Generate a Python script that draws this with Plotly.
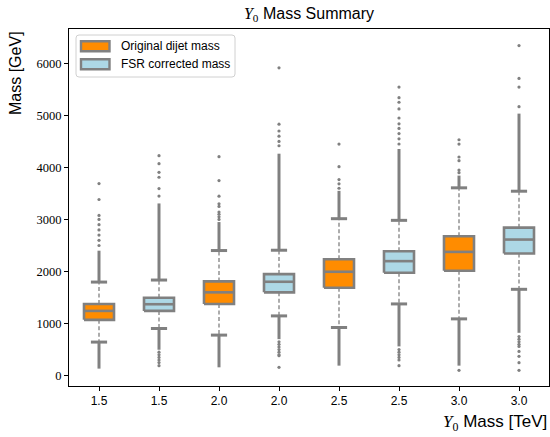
import plotly.graph_objects as go

# ---------------- data ----------------
categories = ["1.5", "1.5", "2.0", "2.0", "2.5", "2.5", "3.0", "3.0"]
series_of_box = ["orig", "fsr", "orig", "fsr", "orig", "fsr", "orig", "fsr"]
series_names = {"orig": "Original dijet mass", "fsr": "FSR corrected mass"}
series_order = ["orig", "fsr"]

q1 = [1071, 1243, 1377, 1600, 1689, 1975, 2014, 2346]
median = [1243, 1371, 1600, 1803, 1995, 2199, 2377, 2614]
q3 = [1377, 1497, 1810, 1950, 2237, 2390, 2677, 2843]
lower_cap = [644, 905, 778, 1147, 924, 1377, 1090, 1658]
upper_cap = [1797, 1836, 2403, 2409, 3015, 2983, 3608, 3543]

# dense (visually continuous) runs of outliers
upper_dense_top = [2400, 3308, 2950, 4264, 3550, 4354, 3843, 5034]
lower_dense_bottom = [134, 497, 159, 700, 191, 561, 191, 822]

# isolated outliers
upper_points = [
    [2500, 2600, 2700, 2800, 2900, 3000, 3078, 3384, 3690],
    [3450, 3594, 3811, 3906, 4073, 4226],
    [3000, 3050, 3100, 3142, 3250, 3300, 3447, 3748, 4206],
    [4417, 4500, 4600, 4700, 4832, 5914],
    [3600, 3684, 3767, 4015, 4449],
    [4450, 4550, 4650, 4750, 4837, 4950, 5124, 5252, 5341, 5545],
    [3900, 3950, 4130, 4200, 4449, 4532],
    [5168, 5545, 5711, 6342],
]
lower_points = [
    [],
    [450, 400, 350, 300, 250, 191],
    [],
    [650, 600, 550, 500, 450, 400, 382, 159],
    [],
    [500, 450, 400, 350, 300, 191],
    [102],
    [750, 700, 650, 600, 561, 465, 370, 249, 102],
]

# ---------------- styling ----------------
ORANGE = "#FF8C00"
LIGHTBLUE = "#ADD8E6"
GREY = "#808080"
fill_of = {"orig": ORANGE, "fsr": LIGHTBLUE}
BOX_W = 0.5
CAP_W = 0.27
SANS = "Liberation Sans, Arial, sans-serif"
SERIF = "Liberation Serif"

W, H = 550, 437
ML, MR, MT, MB = 69, 1, 29, 51
PW, PH = W - ML - MR, H - MT - MB


def px2x(px):
    return (px - ML) / PW


def px2y(py):
    return (H - MB - py) / PH


positions = list(range(1, len(categories) + 1))

fig = go.Figure()

# whiskers (dashed)
wx, wy = [], []
for p, a, b, c, d in zip(positions, q1, q3, lower_cap, upper_cap):
    wx += [p, p, None, p, p, None]
    wy += [b, d, None, a, c, None]
fig.add_trace(go.Scatter(x=wx, y=wy, mode="lines", showlegend=False, hoverinfo="skip",
                         line=dict(color=GREY, width=1.3, dash="4px,2.5px")))

# dense outlier runs
ox, oy = [], []
for p, uc, ut, lc, lb in zip(positions, upper_cap, upper_dense_top, lower_cap, lower_dense_bottom):
    ox += [p, p, None, p, p, None]
    oy += [uc, ut, None, lb, lc, None]
fig.add_trace(go.Scatter(x=ox, y=oy, mode="lines", showlegend=False, hoverinfo="skip",
                         line=dict(color=GREY, width=3)))

# isolated outliers
px_, py_ = [], []
for p, ups, lows in zip(positions, upper_points, lower_points):
    for v in ups + lows:
        px_.append(p)
        py_.append(v)
fig.add_trace(go.Scatter(x=px_, y=py_, mode="markers", showlegend=False, hoverinfo="skip",
                         marker=dict(color=GREY, size=3.2, line=dict(width=0))))

# boxes, one trace per series
for key in series_order:
    bx, by = [], []
    for p, s, a, b in zip(positions, series_of_box, q1, q3):
        if s != key:
            continue
        l, r = p - BOX_W / 2, p + BOX_W / 2
        bx += [l, r, r, l, l, None]
        by += [a, a, b, b, a, None]
    fig.add_trace(go.Scatter(x=bx, y=by, mode="lines", fill="toself",
                             fillcolor=fill_of[key], name=series_names[key], showlegend=False,
                             line=dict(color=GREY, width=2.6), hoverinfo="skip"))

# medians
mx, my = [], []
for p, m in zip(positions, median):
    mx += [p - BOX_W / 2, p + BOX_W / 2, None]
    my += [m, m, None]
fig.add_trace(go.Scatter(x=mx, y=my, mode="lines", showlegend=False, hoverinfo="skip",
                         line=dict(color=GREY, width=2.6)))

# caps
cx, cy = [], []
for p, lc, uc in zip(positions, lower_cap, upper_cap):
    cx += [p - CAP_W / 2, p + CAP_W / 2, None, p - CAP_W / 2, p + CAP_W / 2, None]
    cy += [lc, lc, None, uc, uc, None]
fig.add_trace(go.Scatter(x=cx, y=cy, mode="lines", showlegend=False, hoverinfo="skip",
                         line=dict(color=GREY, width=3)))

# ---------------- legend (matplotlib style, drawn in paper coords) ----------------
shapes = []
annotations = []
lx0, lx1, ly0, ly1 = 76, 235, 35, 77
r = 3
x0, x1 = px2x(lx0), px2x(lx1)
y0, y1 = px2y(ly1), px2y(ly0)
rx, ry = r / PW, r / PH
path = (f"M {x0+rx},{y0} L {x1-rx},{y0} Q {x1},{y0} {x1},{y0+ry} "
        f"L {x1},{y1-ry} Q {x1},{y1} {x1-rx},{y1} L {x0+rx},{y1} Q {x0},{y1} {x0},{y1-ry} "
        f"L {x0},{y0+ry} Q {x0},{y0} {x0+rx},{y0} Z")
shapes.append(dict(type="path", path=path, xref="paper", yref="paper",
                   fillcolor="rgba(255,255,255,0.8)", line=dict(color="#d0d0d0", width=1),
                   layer="above"))
row_centers = [46.2, 64.2]
for key, rc in zip(series_order, row_centers):
    shapes.append(dict(type="rect", xref="paper", yref="paper",
                       x0=px2x(81), x1=px2x(109.5), y0=px2y(rc + 5), y1=px2y(rc - 5),
                       fillcolor=fill_of[key], line=dict(color=GREY, width=2.4), layer="above"))
    annotations.append(dict(text=series_names[key], xref="paper", yref="paper",
                            x=px2x(118.5), y=px2y(rc), xanchor="left", yanchor="middle",
                            showarrow=False, font=dict(family=SANS, size=12, color="black")))

annotations += [
    dict(text="<span style='font-family:Liberation Serif'><i>Y</i><sub>0</sub></span> Mass [TeV]",
         xref="paper", yref="paper", x=1.0, y=px2y(423), xanchor="right", yanchor="middle",
         showarrow=False, font=dict(family=SANS, size=17, color="black")),
    dict(text="Mass [GeV]", textangle=-90,
         xref="paper", yref="paper", x=px2x(15), y=px2y(29), xanchor="center", yanchor="top",
         showarrow=False, font=dict(family=SANS, size=16, color="black")),
]

fig.update_layout(
    width=W, height=H,
    margin=dict(l=ML, r=MR, t=MT, b=MB),
    paper_bgcolor="white", plot_bgcolor="white",
    showlegend=False,
    title=dict(
        text="<span style='font-family:Liberation Serif'><i>Y</i><sub>0</sub></span> Mass Summary",
        x=0.5, xref="paper", xanchor="center",
        y=1 - 13 / H, yref="container", yanchor="middle",
        font=dict(family=SANS, size=16, color="black"),
    ),
    xaxis=dict(
        range=[0.5, 8.5], tickmode="array", tickvals=positions, ticktext=categories,
        showgrid=False, zeroline=False, showline=True, linecolor="black", linewidth=1,
        mirror=True, ticks="outside", ticklen=4, tickcolor="black",
        tickfont=dict(family=SANS, size=12, color="black"),
    ),
    yaxis=dict(
        range=[-200, 6660], tickmode="array", tickvals=[0, 1000, 2000, 3000, 4000, 5000, 6000],
        showgrid=False, zeroline=False, showline=True, linecolor="black", linewidth=1,
        mirror=True, ticks="outside", ticklen=4, tickcolor="black",
        tickfont=dict(family=SERIF, size=12.5, color="black"),
    ),
    shapes=shapes,
    annotations=annotations,
)

fig.write_html("out.html", config={"displayModeBar": False},
               post_script="document.body.style.margin='0px';")
